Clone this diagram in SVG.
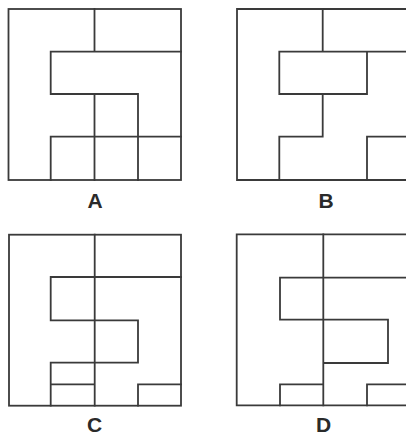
<svg xmlns="http://www.w3.org/2000/svg" width="406" height="437" viewBox="0 0 406 437">
<style>
.l{fill:none;stroke:#3a3a3a;stroke-width:1.8;stroke-linecap:square}
.t{font-family:"Liberation Sans",Arial,sans-serif;font-weight:bold;font-size:21px;fill:#2a2a2a;text-anchor:middle}
</style>
<rect width="406" height="437" fill="#ffffff"/>
<g id="panelA">
<rect class="l" x="8.5" y="9" width="172.5" height="171"/>
<path class="l" d="M94.5 9V51.7M50.7 51.7H181M50.7 51.7V94M50.7 94H138M138 94V180M94.5 94V180M50.7 136.7H181M50.7 136.7V180"/>
<text class="t" x="95" y="207.5">A</text>
</g>
<g id="panelB">
<path class="l" d="M410 9H237V180H410"/>
<path class="l" d="M322.7 9V51.7M279.3 51.7H410M279.3 51.7V94M279.3 94H367M367 51.7V94M322.7 94V136.7M279.3 136.7H322.7M279.3 136.7V180M367 136.7H410M367 136.7V180"/>
<text class="t" x="326" y="207.5">B</text>
</g>
<g id="panelC">
<rect class="l" x="9" y="234.7" width="172" height="171"/>
<path class="l" d="M94.7 234.7V405.7M50.7 277H181M50.7 277V320.3M50.7 320.3H138M138 320.3V362.7M50.7 362.7H138M50.7 362.7V405.7M50.7 384.3H94.7M138 384.3H181M138 384.3V405.7"/>
<text class="t" x="94.5" y="432">C</text>
</g>
<g id="panelD">
<path class="l" d="M410 234.3H236.7V405.3H410"/>
<path class="l" d="M323.3 234.3V405.3M280 277.7H410M280 277.7V319.7M280 319.7H388M388 319.7V363M323.3 363H388M280 384.3H323.3M280 384.3V405.3M367 384.3H410M367 384.3V405.3"/>
<text class="t" x="323.5" y="432">D</text>
</g>
<g id="connectors"/>
</svg>
